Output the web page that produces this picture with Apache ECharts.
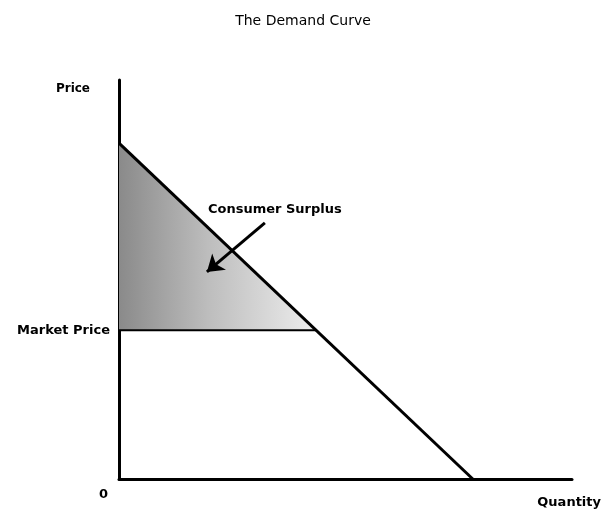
<!DOCTYPE html>
<html>
<head>
<meta charset="utf-8">
<script src="https://cdn.jsdelivr.net/npm/echarts@6/dist/echarts.min.js"></script>
<style>
  html, body { margin: 0; padding: 0; background: #fff; }
  #main { width: 606px; height: 516px; }
</style>
</head>
<body>
<div id="main"></div>
<script>
// demand curve endpoints [quantity, price]
var demand = [[0, 8.42], [7.81, 0]];
var marketPrice = 3.73;
var marketLine = [[0, marketPrice], [4.37, marketPrice]];
// consumer surplus triangle
var surplus = [[0, 8.42], [0, marketPrice], [4.37, marketPrice]];
// annotation arrow: from -> to
var arrow = [[3.22, 6.42], [1.94, 5.19]];
var surplusLabel = [[3.44, 6.79]];

var chartDom = document.getElementById('main');
var myChart = echarts.init(chartDom);
var option;

var boldText = {
    fontFamily: 'DejaVu Sans',
    fontWeight: 'bold',
    fontSize: 13,
    color: '#000'
};

option = {
    animation: false,
    backgroundColor: '#fff',
    title: {
        text: 'The Demand Curve',
        left: 'center',
        top: 9,
        textStyle: {
            fontFamily: 'DejaVu Sans',
            fontWeight: 'normal',
            fontSize: 14,
            color: '#000'
        }
    },
    grid: {
        left: 119,
        right: 34,
        top: 80,
        bottom: 37
    },
    xAxis: {
        type: 'value',
        min: 0,
        max: 10,
        name: 'Quantity',
        nameLocation: 'end',
        nameGap: 29,
        nameTextStyle: Object.assign({}, boldText, {
            align: 'right',
            verticalAlign: 'top',
            padding: [17, 0, 0, 0]
        }),
        axisLine: { show: true, lineStyle: { color: '#000', width: 3 } },
        axisTick: { show: false },
        splitLine: { show: false },
        axisLabel: {
            customValues: [0],
            formatter: function () { return '0'; },
            margin: 9,
            align: 'right',
            padding: [0, 11, 0, 0],
            fontFamily: 'DejaVu Sans',
            fontWeight: 'bold',
            fontSize: 13,
            color: '#000'
        }
    },
    yAxis: {
        type: 'value',
        min: 0,
        max: 10,
        name: 'Price',
        nameLocation: 'end',
        nameGap: -9,
        nameTextStyle: Object.assign({}, boldText, {
            fontSize: 12,
            align: 'right',
            verticalAlign: 'middle',
            padding: [0, 29, 0, 0]
        }),
        axisLine: { show: true, lineStyle: { color: '#000', width: 3 } },
        axisTick: { show: false },
        splitLine: { show: false },
        axisLabel: Object.assign({}, boldText, {
            customValues: [marketPrice],
            formatter: function () { return 'Market Price'; },
            margin: 9
        })
    },
    series: [
        {
            name: 'Consumer Surplus',
            type: 'custom',
            coordinateSystem: 'cartesian2d',
            data: surplus,
            encode: { x: 0, y: 1 },
            z: 1,
            renderItem: function (params, api) {
                if (params.dataIndex !== 0) {
                    return;
                }
                var pts = surplus.map(function (p) {
                    return api.coord(p);
                });
                return {
                    type: 'polygon',
                    shape: { points: pts },
                    style: {
                        fill: new echarts.graphic.LinearGradient(0, 0, 1, 0, [
                            { offset: 0, color: '#8a8a8a' },
                            { offset: 0.45, color: '#bdbdbd' },
                            { offset: 1, color: '#eeeeee' }
                        ])
                    }
                };
            }
        },
        {
            name: 'Market Price',
            type: 'line',
            data: marketLine,
            symbol: 'none',
            z: 3,
            lineStyle: { color: '#000', width: 2 }
        },
        {
            name: 'Demand',
            type: 'line',
            data: demand,
            symbol: 'none',
            z: 4,
            lineStyle: { color: '#000', width: 3 }
        },
        {
            name: 'Arrow',
            type: 'lines',
            coordinateSystem: 'cartesian2d',
            z: 5,
            symbol: ['none', 'arrow'],
            symbolSize: 16,
            lineStyle: { color: '#000', width: 3, opacity: 1 },
            data: [{ coords: arrow }]
        },
        {
            name: 'Label',
            type: 'scatter',
            data: surplusLabel,
            symbolSize: 0,
            itemStyle: { color: '#000', opacity: 1 },
            z: 6,
            label: Object.assign({}, boldText, {
                show: true,
                position: 'top',
                distance: -8,
                textBorderWidth: 0,
                formatter: 'Consumer Surplus'
            })
        }
    ]
};

option && myChart.setOption(option);
</script>
</body>
</html>
